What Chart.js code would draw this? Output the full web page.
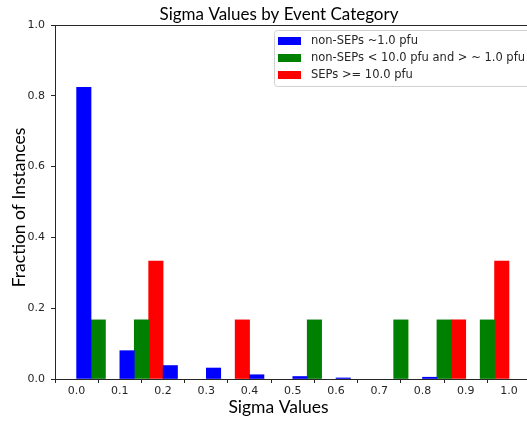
<!DOCTYPE html>
<html>
<head>
<meta charset="utf-8">
<script src="https://cdn.jsdelivr.net/npm/chart.js@4/dist/chart.umd.min.js"></script>
<style>
  html, body { margin: 0; padding: 0; background: #ffffff; }
  #wrap { width: 527px; height: 421px; position: relative; }
</style>
</head>
<body>
<div id="wrap"><canvas id="chart"></canvas></div>
<script>
// Histogram bins (left edges), width 0.1
const binStarts = [0.0, 0.1, 0.2, 0.3, 0.4, 0.5, 0.6, 0.7, 0.8, 0.9];
const binWidth = 0.1;

// Fraction of instances per bin for each event category
const nonSepsLow = [0.824, 0.080, 0.038, 0.031, 0.012, 0.007, 0.003, 0.000, 0.005, 0.000];
const nonSepsMid = [0.167, 0.167, 0.000, 0.000, 0.000, 0.167, 0.000, 0.167, 0.167, 0.167];
const seps       = [0.000, 0.333, 0.000, 0.167, 0.000, 0.000, 0.000, 0.000, 0.167, 0.333];

const seriesLabels = [
  'non-SEPs ~1.0 pfu',
  'non-SEPs < 10.0 pfu and > ~ 1.0 pfu',
  'SEPs >= 10.0 pfu'
];
const seriesColors = ['#0000ff', '#008000', '#ff0000'];

const xTicks = [0.0, 0.1, 0.2, 0.3, 0.4, 0.5, 0.6, 0.7, 0.8, 0.9, 1.0];
const yTicks = [0.0, 0.2, 0.4, 0.6, 0.8, 1.0];

const chartTitle = 'Sigma Values by Event Category';
const xLabel = 'Sigma Values';
const yLabel = 'Fraction of Instances';

// Empty bins get no bar at all
const toPoints = vals => vals.map((v, i) => ({ x: binStarts[i] + binWidth / 2, y: v === 0 ? null : v }));

const axisColor = '#262626';
const tickFont = { family: 'DejaVu Sans', size: 11 };

// Title, axis labels and the top frame line of the axes box
const frameAndLabels = {
  id: 'frameAndLabels',
  afterDraw(chart) {
    const { ctx, chartArea } = chart;
    ctx.save();
    ctx.strokeStyle = axisColor;
    ctx.lineWidth = 1;
    ctx.beginPath();
    ctx.moveTo(chartArea.left, Math.round(chartArea.top) + 0.5);
    ctx.lineTo(chartArea.right, Math.round(chartArea.top) + 0.5);
    ctx.stroke();

    ctx.fillStyle = '#000000';
    ctx.textAlign = 'center';
    ctx.textBaseline = 'alphabetic';
    ctx.font = '17px Lato';
    ctx.fillText(chartTitle, 279, 19.5);

    ctx.font = '17.5px Lato';
    ctx.fillText(xLabel, 278.5, 413);

    ctx.translate(25, 207.5);
    ctx.rotate(-Math.PI / 2);
    ctx.fillText(yLabel, 0, 0);
    ctx.restore();
  }
};

// Framed legend in the upper right corner of the plot
const boxedLegend = {
  id: 'boxedLegend',
  afterDraw(chart) {
    const { ctx } = chart;
    const x0 = 274.5, y0 = 30.5, w = 270, h = 56, r = 3;
    ctx.save();
    ctx.beginPath();
    ctx.roundRect(x0, y0, w, h, r);
    ctx.fillStyle = 'rgba(255,255,255,0.8)';
    ctx.fill();
    ctx.strokeStyle = '#d0d0d0';
    ctx.lineWidth = 1;
    ctx.stroke();
    ctx.font = '11.5px "DejaVu Sans"';
    ctx.textBaseline = 'middle';
    ctx.textAlign = 'left';
    chart.data.datasets.forEach((ds, i) => {
      const cy = 41 + i * 17;
      ctx.fillStyle = ds.backgroundColor;
      ctx.fillRect(278, cy - 4, 23, 8);
      ctx.fillStyle = '#262626';
      ctx.fillText(ds.label, 311, cy);
    });
    ctx.restore();
  }
};

new Chart(document.getElementById('chart'), {
  type: 'bar',
  data: {
    datasets: [
      { label: seriesLabels[0], data: toPoints(nonSepsLow), backgroundColor: seriesColors[0] },
      { label: seriesLabels[1], data: toPoints(nonSepsMid), backgroundColor: seriesColors[1] },
      { label: seriesLabels[2], data: toPoints(seps), backgroundColor: seriesColors[2] }
    ]
  },
  options: {
    responsive: true,
    maintainAspectRatio: false,
    animation: false,
    layout: { padding: { left: 0, right: 0, top: 25, bottom: 0 } },
    datasets: {
      bar: { barPercentage: 1.0, categoryPercentage: 1.0, borderWidth: 0 }
    },
    plugins: {
      legend: { display: false },
      tooltip: { enabled: false },
      title: { display: false }
    },
    scales: {
      x: {
        type: 'linear',
        min: -0.05,
        max: 1.0417,
        offset: false,
        afterBuildTicks: s => { s.ticks = xTicks.map(v => ({ value: v })); },
        afterFit: s => { s.height = 42; },
        ticks: {
          callback: v => Number(v).toFixed(1),
          font: tickFont, color: axisColor, padding: 2,
          maxRotation: 0, autoSkip: false
        },
        grid: { display: true, drawOnChartArea: false, drawTicks: true, tickLength: 4, tickColor: axisColor },
        border: { display: true, color: axisColor, width: 1 }
      },
      y: {
        min: 0,
        max: 1.0,
        afterBuildTicks: s => { s.ticks = yTicks.map(v => ({ value: v })); },
        afterFit: s => { s.width = 55; },
        ticks: {
          callback: v => Number(v).toFixed(1),
          font: tickFont, color: axisColor, padding: 6
        },
        grid: { display: true, drawOnChartArea: false, drawTicks: true, tickLength: 4, tickColor: axisColor },
        border: { display: true, color: axisColor, width: 1 }
      }
    }
  },
  plugins: [frameAndLabels, boxedLegend]
});
</script>
</body>
</html>
